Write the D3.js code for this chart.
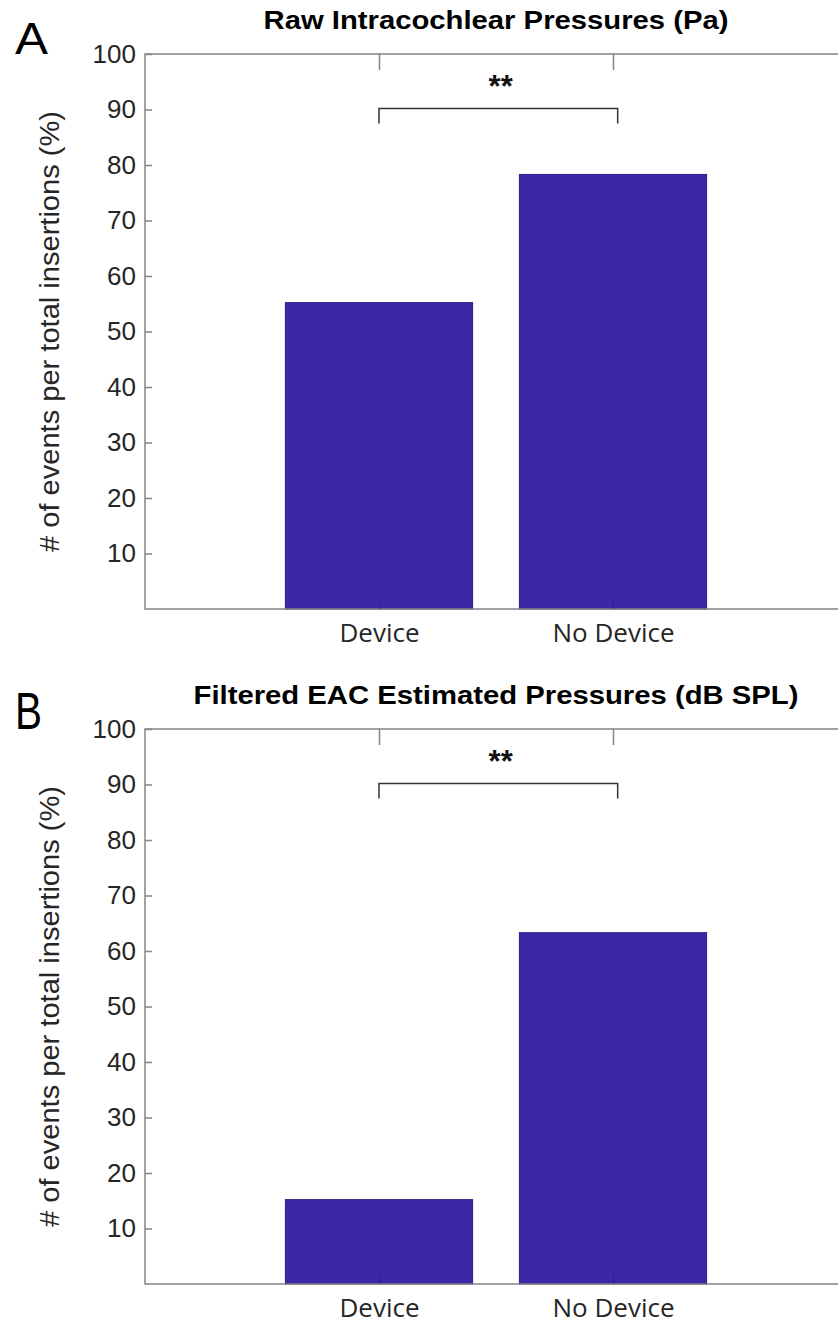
<!DOCTYPE html>
<html>
<head>
<meta charset="utf-8">
<script src="https://cdn.jsdelivr.net/npm/d3@7"></script>
<style>
  html, body { margin: 0; padding: 0; background: #fff; }
  svg { display: block; }
</style>
</head>
<body>
<svg id="chart" width="838" height="1325"></svg>
<script>
// ---- data ----
const categories = ["Device", "No Device"];
const panelLetters = ["A", "B"];
const panelTitles = ["Raw Intracochlear Pressures (Pa)", "Filtered EAC Estimated Pressures (dB SPL)"];
const valuesA = [55.2, 78.3];
const valuesB = [15.2, 63.3];
const yTicks = [10, 20, 30, 40, 50, 60, 70, 80, 90, 100];
const yLabel = "# of events per total insertions (%)";
const sigLabel = "**";
const sigPair = [1, 2.02];      // bracket ends (category positions)
const sigLevel = [90.2, 87.5];  // bracket top / foot (y units)
const sigTextPos = [1.52, 92.3];

// ---- styles / layout ----
const panelStyle = [
  { titleWidth: 465, letterSize: 44, letterWidth: 33 },
  { titleWidth: 605, letterSize: 52, letterWidth: 27 }
];
const panels = [
  { letter: panelLetters[0], title: panelTitles[0], values: valuesA },
  { letter: panelLetters[1], title: panelTitles[1], values: valuesB }
];

const svg = d3.select("#chart");
const axisColor = "#858585";
const textColor = "#262626";
const barColor = "#3d27a7";
const barEdge = "#2b1a86";

const left = 145, right = 847, panelTop = 54, panelBottom = 609, panelShift = 675;

panels.forEach((p, i) => {
  const st = panelStyle[i];
  const off = i * panelShift;
  const g = svg.append("g").attr("transform", `translate(0,${off})`);
  const x = d3.scaleLinear().domain([0, 3]).range([left, right]);
  const y = d3.scaleLinear().domain([0, 100]).range([panelBottom, panelTop]);
  const bw = x(0.8) - x(0);

  // bars
  g.selectAll("rect.bar").data(p.values).enter().append("rect")
    .attr("class", "bar")
    .attr("x", (d, j) => x(j + 1) - bw / 2)
    .attr("width", bw)
    .attr("y", d => y(d))
    .attr("height", d => y(0) - y(d))
    .attr("fill", barColor)
    .attr("stroke", barEdge)
    .attr("stroke-width", 1);

  // box
  g.append("rect")
    .attr("x", left).attr("y", panelTop)
    .attr("width", right - left).attr("height", panelBottom - panelTop)
    .attr("fill", "none").attr("stroke", axisColor).attr("stroke-width", 1.5);

  // left y axis
  const yAxis = d3.axisLeft(y).tickValues(yTicks).tickSizeInner(-7).tickSizeOuter(0).tickPadding(10);
  const ya = g.append("g").attr("transform", `translate(${left},0)`).call(yAxis);
  ya.select(".domain").remove();
  ya.selectAll(".tick line").attr("stroke", axisColor).attr("stroke-width", 1.5);
  ya.selectAll(".tick text")
    .attr("x", -9)
    .attr("fill", textColor)
    .style("font-family", "'Liberation Sans', Arial, sans-serif")
    .style("font-size", "26px");

  // right y axis ticks (mostly off-canvas)
  const yAxisR = d3.axisRight(y).tickValues(yTicks).tickSizeInner(-7).tickSizeOuter(0).tickFormat("");
  const yr = g.append("g").attr("transform", `translate(${right},0)`).call(yAxisR);
  yr.select(".domain").remove();
  yr.selectAll(".tick line").attr("stroke", axisColor).attr("stroke-width", 1.5);

  // top x ticks
  const xTop = d3.axisTop(x).tickValues([1, 2]).tickSizeInner(-16).tickSizeOuter(0).tickFormat("");
  const xt = g.append("g").attr("transform", `translate(0,${panelTop})`).call(xTop);
  xt.select(".domain").remove();
  xt.selectAll(".tick line").attr("stroke", axisColor).attr("stroke-width", 1.5);

  // bottom x axis labels
  const xBot = d3.axisBottom(x).tickValues([1, 2]).tickSizeInner(-10).tickSizeOuter(0)
    .tickPadding(15).tickFormat((d) => categories[d - 1]);
  const xb = g.append("g").attr("transform", `translate(0,${panelBottom})`).call(xBot);
  xb.select(".domain").remove();
  xb.selectAll(".tick line").attr("stroke", "#2a1a70").attr("stroke-width", 2).attr("opacity", 0.35);
  xb.selectAll(".tick text")
    .attr("fill", textColor)
    .style("font-family", "'Open Sans', sans-serif")
    .style("font-size", "26px");

  // y label
  g.append("text")
    .attr("transform", `translate(59,${(panelTop + panelBottom) / 2}) rotate(-90)`)
    .attr("text-anchor", "middle")
    .attr("fill", textColor)
    .attr("textLength", 441)
    .attr("lengthAdjust", "spacingAndGlyphs")
    .style("font-family", "'Liberation Sans', Arial, sans-serif")
    .style("font-size", "27px")
    .text(yLabel);

  // title
  g.append("text")
    .attr("x", (left + right) / 2).attr("y", panelTop - 25)
    .attr("text-anchor", "middle")
    .attr("fill", "#000")
    .attr("textLength", st.titleWidth)
    .attr("lengthAdjust", "spacingAndGlyphs")
    .style("font-family", "'Liberation Sans', Arial, sans-serif")
    .style("font-weight", "bold")
    .style("font-size", "26px")
    .text(p.title);

  // panel letter
  g.append("text")
    .attr("x", 15).attr("y", panelTop)
    .attr("fill", "#000")
    .attr("textLength", st.letterWidth)
    .attr("lengthAdjust", "spacingAndGlyphs")
    .style("font-family", "'Liberation Sans', Arial, sans-serif")
    .style("font-size", st.letterSize + "px")
    .text(p.letter);

  // significance bracket
  const bracket = d3.line()([
    [x(sigPair[0]), y(sigLevel[1])],
    [x(sigPair[0]), y(sigLevel[0])],
    [x(sigPair[1]), y(sigLevel[0])],
    [x(sigPair[1]), y(sigLevel[1])]
  ]);
  g.append("path").attr("d", bracket)
    .attr("fill", "none").attr("stroke", "#333").attr("stroke-width", 1.5);
  g.append("text")
    .attr("x", x(sigTextPos[0])).attr("y", y(sigTextPos[1]))
    .attr("text-anchor", "middle")
    .attr("fill", "#111")
    .style("font-family", "'Liberation Sans', Arial, sans-serif")
    .style("font-weight", "bold")
    .style("font-size", "31px")
    .text(sigLabel);
});
</script>
</body>
</html>
